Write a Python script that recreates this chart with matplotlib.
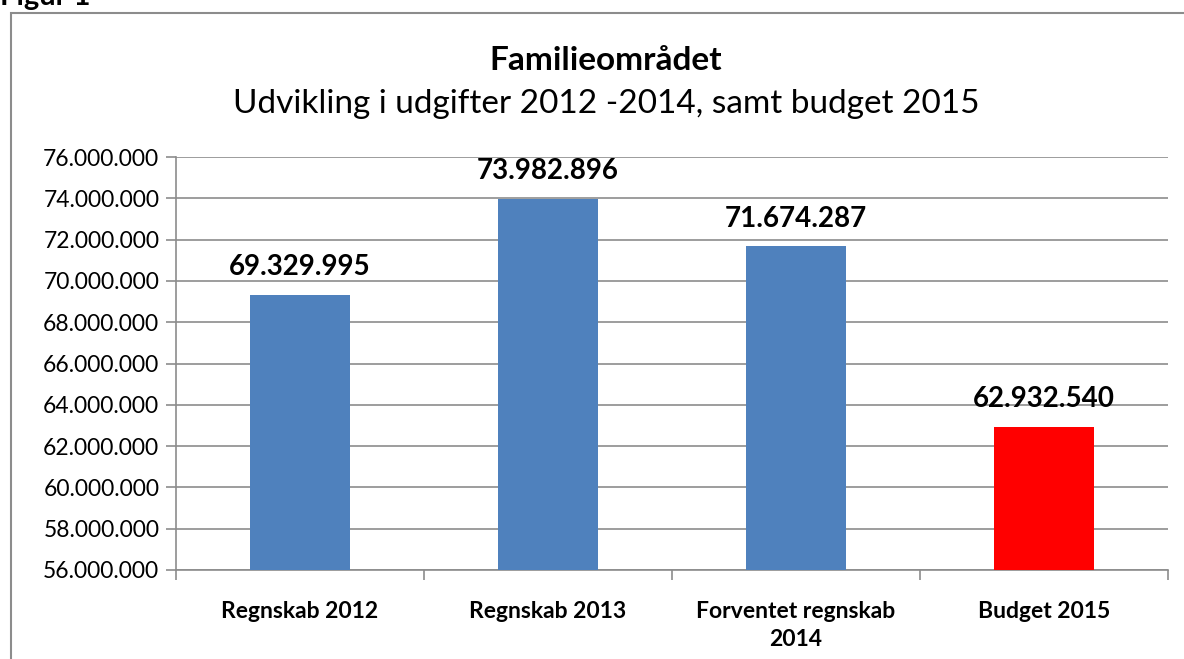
import matplotlib
matplotlib.use("Agg")
import matplotlib.pyplot as plt
from matplotlib.patches import Rectangle
from matplotlib.ticker import FuncFormatter

plt.rcParams['font.family'] = ['Lato', 'DejaVu Sans']

categories = ["Regnskab 2012", "Regnskab 2013", "Forventet regnskab\n2014", "Budget 2015"]
values = [69329995, 73982896, 71674287, 62932540]
colors = ["#4F81BD", "#4F81BD", "#4F81BD", "#FF0000"]
yticks = list(range(56000000, 76000001, 2000000))

W, H = 1184, 659
fig = plt.figure(figsize=(W / 100, H / 100), dpi=100)

# chart frame (cut off at right/bottom like the screenshot)
fig.patches.append(Rectangle((11 / W, -0.1), 1.2, 1 - 13 / H + 0.1, transform=fig.transFigure,
                             fill=False, edgecolor="#8c8c8c", linewidth=1.5))
fig.text(0.0, 1 - 5 / H, "Figur 1", fontsize=21, fontweight="bold", va="baseline", ha="left")

fig.text(0.5 + 14 / W, 1 - 60 / H, "Familieområdet", fontsize=24, fontweight="bold",
         ha="center", va="center")
fig.text(0.5 + 14 / W, 1 - 104 / H, "Udvikling i udgifter 2012 -2014, samt budget 2015",
         fontsize=24, ha="center", va="center")

ax = fig.add_axes([176 / W, (H - 570) / H, 992 / W, (570 - 157) / H])
x = [i + 0.5 for i in range(len(values))]
ax.bar(x, values, width=0.4, color=colors, zorder=3)
ax.set_xlim(0, 4)
ax.set_ylim(56000000, 76000000)
ax.set_yticks(yticks)
ax.yaxis.set_major_formatter(FuncFormatter(lambda v, p: f"{int(v):,}".replace(",", ".")))
ax.grid(axis="y", color="#8c8c8c", linewidth=1.2, zorder=0)
ax.set_axisbelow(True)

for s in ("top", "right"):
    ax.spines[s].set_visible(False)
for s in ("left", "bottom"):
    ax.spines[s].set_color("#8c8c8c")
    ax.spines[s].set_linewidth(1.2)

ax.tick_params(axis="y", length=7, color="#8c8c8c", width=1.2, labelsize=16.5, pad=5)
ax.set_xticks(x)
ax.set_xticklabels(categories, fontsize=16.5, fontweight="bold", linespacing=1.45, va="top")
ax.tick_params(axis="x", which="major", length=0, pad=22)
ax.set_xticks(range(5), minor=True)
ax.tick_params(axis="x", which="minor", length=7, color="#8c8c8c", width=1.2)

for xi, v in zip(x, values):
    ax.annotate(f"{v:,}".replace(",", "."), (xi, v), xytext=(0, 20), textcoords="offset points",
                ha="center", va="center", fontsize=20, fontweight="bold")

fig.savefig("out.png", dpi=100)
